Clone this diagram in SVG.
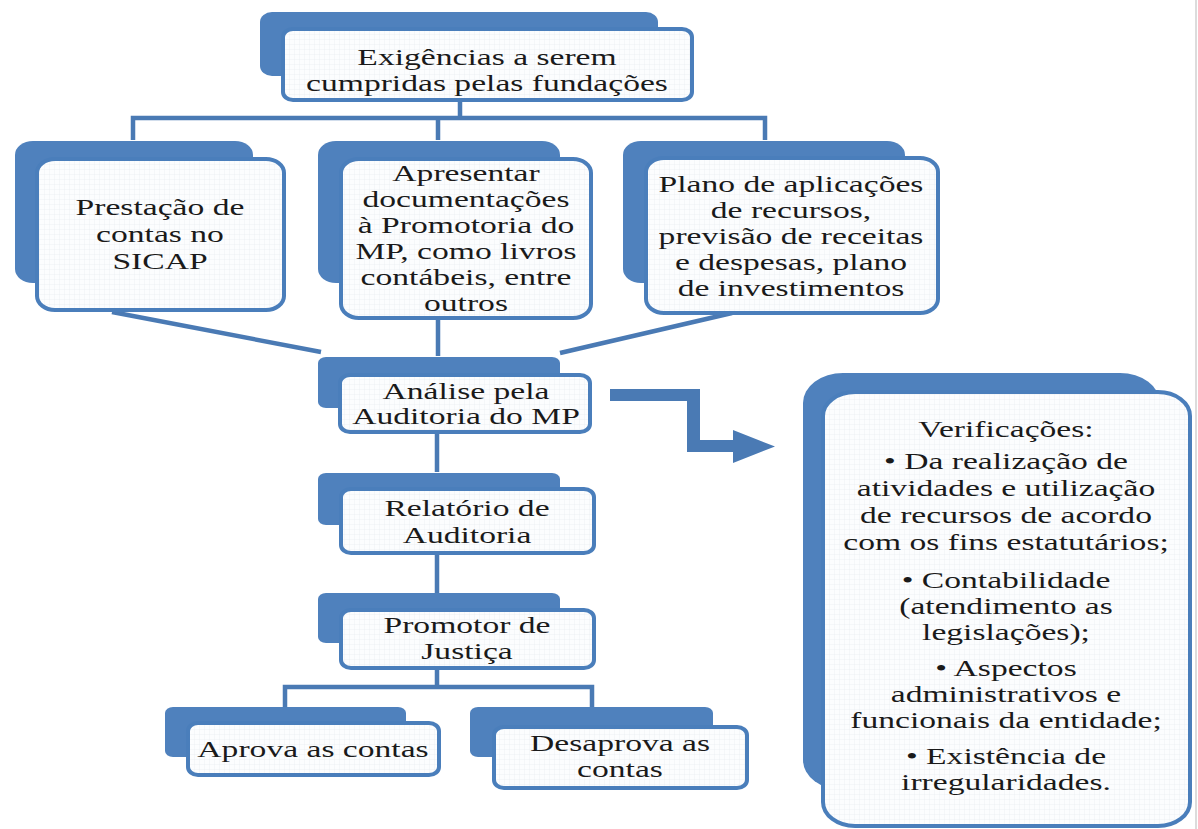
<svg xmlns="http://www.w3.org/2000/svg" width="1198" height="829" viewBox="0 0 1198 829">
<defs>
<pattern id="grid" width="5" height="5" patternUnits="userSpaceOnUse">
<rect width="5" height="5" fill="#fcfdfe"/>
<path d="M5 0V5M0 5H5" stroke="#e8ebf0" stroke-width="0.7"/>
</pattern>
<style>
.back{fill:#4f81bd}
.front{fill:url(#grid);stroke:#4a7ebb;stroke-width:4}
.con{fill:none;stroke:#4a7ab4;stroke-width:4.5;stroke-linejoin:miter}
.t{font-family:"Liberation Serif","Times New Roman",serif;font-size:24px;fill:#1a1a1a;text-anchor:middle}
</style>
</defs>
<rect width="1198" height="829" fill="#ffffff"/>
<line x1="1196" y1="0" x2="1196" y2="829" stroke="#d0d0d0" stroke-width="1.5"/>

<g id="connectors">
<path class="con" d="M460 100V118M133 140V118H765V140M438 118V140"/>
<path class="con" d="M112 312L321 352M438 317V356M560 353L732 313"/>
<path class="con" d="M437 432V472M437 553V593"/>
<path class="con" d="M437 668V687M285 707V687H592V707"/>
<path d="M610 389H700V440H733V430L775 446.5L733 463V452H687V401H610Z" fill="#4a7ab4"/>
</g>

<g id="n-top">
<rect class="back" x="260" y="12" width="398" height="64" rx="12" ry="10"/>
<rect class="front" x="283" y="29" width="409" height="71" rx="10" ry="8"/>
<text class="t" transform="translate(487 0) scale(1.4 1)"><tspan x="0" y="65">Exigências a serem</tspan><tspan x="0" y="91">cumpridas pelas fundações</tspan></text>
</g>

<g id="n-sicap">
<rect class="back" x="15" y="141" width="238" height="142" rx="18" ry="14"/>
<rect class="front" x="37" y="159" width="247" height="151" rx="18" ry="14"/>
<text class="t" transform="translate(160 0) scale(1.4 1)"><tspan x="0" y="215">Prestação de</tspan><tspan x="0" y="242">contas no</tspan><tspan x="0" y="269">SICAP</tspan></text>
</g>

<g id="n-doc">
<rect class="back" x="318" y="141" width="242" height="142" rx="18" ry="14"/>
<rect class="front" x="341" y="159" width="250" height="159" rx="18" ry="14"/>
<text class="t" transform="translate(466 0) scale(1.4 1)"><tspan x="0" y="181">Apresentar</tspan><tspan x="0" y="207">documentações</tspan><tspan x="0" y="233">à Promotoria do</tspan><tspan x="0" y="259">MP, como livros</tspan><tspan x="0" y="285">contábeis, entre</tspan><tspan x="0" y="311">outros</tspan></text>
</g>

<g id="n-plano">
<rect class="back" x="623" y="141" width="282" height="142" rx="18" ry="14"/>
<rect class="front" x="646" y="158" width="292" height="155" rx="18" ry="14"/>
<text class="t" transform="translate(791 0) scale(1.4 1)"><tspan x="0" y="192">Plano de aplicações</tspan><tspan x="0" y="218">de recursos,</tspan><tspan x="0" y="244">previsão de receitas</tspan><tspan x="0" y="270">e despesas, plano</tspan><tspan x="0" y="296">de investimentos</tspan></text>
</g>

<g id="n-analise">
<rect class="back" x="318" y="357" width="242" height="51" rx="8" ry="6"/>
<rect class="front" x="340" y="375" width="250" height="57" rx="10" ry="8"/>
<text class="t" transform="translate(466 0) scale(1.4 1)"><tspan x="0" y="399">Análise pela</tspan><tspan x="0" y="424">Auditoria do MP</tspan></text>
</g>

<g id="n-relatorio">
<rect class="back" x="318" y="473" width="242" height="52" rx="8" ry="6"/>
<rect class="front" x="341" y="489" width="253" height="64" rx="10" ry="8"/>
<text class="t" transform="translate(467 0) scale(1.4 1)"><tspan x="0" y="516">Relatório de</tspan><tspan x="0" y="543">Auditoria</tspan></text>
</g>

<g id="n-promotor">
<rect class="back" x="318" y="593" width="242" height="50" rx="8" ry="6"/>
<rect class="front" x="341" y="610" width="253" height="58" rx="10" ry="8"/>
<text class="t" transform="translate(467 0) scale(1.4 1)"><tspan x="0" y="633">Promotor de</tspan><tspan x="0" y="659">Justiça</tspan></text>
</g>

<g id="n-aprova">
<rect class="back" x="165" y="707" width="241" height="50" rx="8" ry="6"/>
<rect class="front" x="188" y="723" width="251" height="52" rx="10" ry="8"/>
<text class="t" transform="translate(313 0) scale(1.4 1)"><tspan x="0" y="757">Aprova as contas</tspan></text>
</g>

<g id="n-desaprova">
<rect class="back" x="470" y="707" width="243" height="50" rx="8" ry="6"/>
<rect class="front" x="494" y="727" width="253" height="61" rx="10" ry="8"/>
<text class="t" transform="translate(620 0) scale(1.4 1)"><tspan x="0" y="751">Desaprova as</tspan><tspan x="0" y="777">contas</tspan></text>
</g>

<g id="n-verificacoes">
<rect class="back" x="803" y="373" width="357" height="417" rx="40" ry="30"/>
<rect class="front" x="823" y="392" width="367" height="434" rx="32" ry="24"/>
<text class="t" transform="translate(1006 0) scale(1.4 1)"><tspan x="0" y="437">Verificações:</tspan><tspan x="0" y="469">• Da realização de</tspan><tspan x="0" y="496">atividades e utilização</tspan><tspan x="0" y="523">de recursos de acordo</tspan><tspan x="0" y="550">com os fins estatutários;</tspan><tspan x="0" y="588">• Contabilidade</tspan><tspan x="0" y="614">(atendimento as</tspan><tspan x="0" y="640">legislações);</tspan><tspan x="0" y="676">• Aspectos</tspan><tspan x="0" y="702">administrativos e</tspan><tspan x="0" y="728">funcionais da entidade;</tspan><tspan x="0" y="764">• Existência de</tspan><tspan x="0" y="790">irregularidades.</tspan></text>
</g>
</svg>
